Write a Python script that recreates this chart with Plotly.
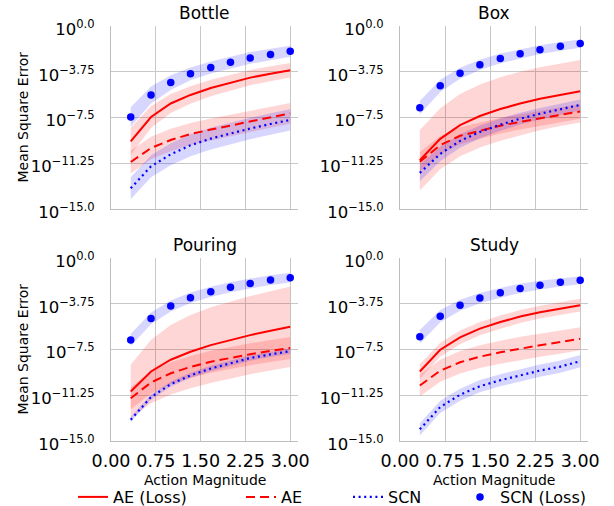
import plotly.graph_objects as go
import numpy as np

# x positions (action magnitude)
action_magnitude = [0.33, 0.67, 1.0, 1.33, 1.67, 2.0, 2.33, 2.67, 3.0]

panel_titles = ["Bottle", "Box", "Pouring", "Study"]
series_names = ["AE (Loss)", "AE", "SCN", "SCN (Loss)"]

# mean log10(MSE) per series
bottle_ae_loss = [-9.45, -7.46, -6.35, -5.65, -5.08, -4.64, -4.23, -3.91, -3.63]
bottle_ae = [-11.15, -10.0, -9.34, -8.86, -8.49, -8.15, -7.81, -7.48, -7.16]
bottle_scn = [-13.3, -11.5, -10.52, -9.78, -9.23, -8.79, -8.4, -8.03, -7.7]
bottle_scn_loss = [-7.45, -5.65, -4.64, -3.92, -3.4, -2.98, -2.62, -2.33, -2.07]

box_ae_loss = [-11.0, -9.25, -8.13, -7.38, -6.81, -6.35, -5.97, -5.63, -5.34]
box_ae = [-11.13, -9.77, -9.0, -8.57, -8.17, -7.86, -7.57, -7.28, -7.0]
box_scn = [-12.04, -10.48, -9.42, -8.68, -8.09, -7.6, -7.19, -6.85, -6.47]
box_scn_loss = [-6.7, -4.9, -3.88, -3.18, -2.66, -2.27, -1.94, -1.67, -1.44]

pouring_ae_loss = [-10.94, -9.3, -8.34, -7.68, -7.14, -6.7, -6.32, -5.97, -5.64]
pouring_ae = [-11.49, -10.2, -9.45, -8.93, -8.5, -8.17, -7.89, -7.62, -7.38]
pouring_scn = [-13.25, -11.4, -10.34, -9.62, -9.06, -8.6, -8.2, -7.9, -7.63]
pouring_scn_loss = [-6.72, -4.95, -3.93, -3.26, -2.77, -2.39, -2.09, -1.81, -1.61]

study_ae_loss = [-9.3, -7.52, -6.5, -5.79, -5.25, -4.8, -4.44, -4.13, -3.87]
study_ae = [-10.45, -9.24, -8.55, -8.09, -7.73, -7.41, -7.15, -6.89, -6.62]
study_scn = [-14.04, -12.21, -11.21, -10.51, -10.02, -9.6, -9.23, -8.9, -8.46]
study_scn_loss = [-6.46, -4.77, -3.87, -3.28, -2.85, -2.49, -2.23, -1.99, -1.82]

# band half-widths (decades)
bottle_ae_loss_sd = [1.1, 0.9, 0.78, 0.72, 0.67, 0.65, 0.63, 0.61, 0.6]
bottle_ae_sd = [0.95, 0.93, 0.92, 0.9, 0.9, 0.88, 0.87, 0.86, 0.85]
bottle_scn_sd = [0.9, 0.9, 0.9, 0.9, 0.9, 0.89, 0.88, 0.88, 0.87]
bottle_scn_loss_sd = [0.8, 0.7, 0.6, 0.52, 0.5, 0.49, 0.48, 0.47, 0.46]

box_ae_loss_sd = [2.48, 2.5, 2.55, 2.58, 2.6, 2.6, 2.58, 2.57, 2.56]
box_ae_sd = [0.8, 0.75, 0.7, 0.68, 0.65, 0.63, 0.62, 0.61, 0.6]
box_scn_sd = [0.68, 0.6, 0.55, 0.52, 0.5, 0.48, 0.47, 0.46, 0.45]
box_scn_loss_sd = [0.55, 0.5, 0.45, 0.42, 0.4, 0.38, 0.36, 0.35, 0.34]

pouring_ae_loss_sd = [2.2, 2.6, 2.85, 3.0, 3.1, 3.15, 3.2, 3.25, 3.3]
pouring_ae_sd = [0.9, 0.9, 0.9, 0.9, 0.9, 0.9, 0.9, 0.9, 0.9]
pouring_scn_sd = [0.22, 0.22, 0.22, 0.22, 0.22, 0.22, 0.22, 0.22, 0.22]
pouring_scn_loss_sd = [0.5, 0.48, 0.45, 0.43, 0.42, 0.41, 0.4, 0.4, 0.4]

study_ae_loss_sd = [0.6, 0.58, 0.56, 0.55, 0.54, 0.53, 0.52, 0.52, 0.52]
study_ae_sd = [0.9, 0.9, 0.92, 0.93, 0.94, 0.95, 0.95, 0.95, 0.95]
study_scn_sd = [0.5, 0.5, 0.5, 0.5, 0.5, 0.5, 0.5, 0.5, 0.5]
study_scn_loss_sd = [0.55, 0.5, 0.45, 0.42, 0.4, 0.38, 0.36, 0.34, 0.33]

panels = [
    [(bottle_ae_loss, bottle_ae_loss_sd), (bottle_ae, bottle_ae_sd),
     (bottle_scn, bottle_scn_sd), (bottle_scn_loss, bottle_scn_loss_sd)],
    [(box_ae_loss, box_ae_loss_sd), (box_ae, box_ae_sd),
     (box_scn, box_scn_sd), (box_scn_loss, box_scn_loss_sd)],
    [(pouring_ae_loss, pouring_ae_loss_sd), (pouring_ae, pouring_ae_sd),
     (pouring_scn, pouring_scn_sd), (pouring_scn_loss, pouring_scn_loss_sd)],
    [(study_ae_loss, study_ae_loss_sd), (study_ae, study_ae_sd),
     (study_scn, study_scn_sd), (study_scn_loss, study_scn_loss_sd)],
]

y_tick_exps = [-15.0, -11.25, -7.5, -3.75, 0.0]
y_tick_text = ["10<sup>\u221215.0</sup>", "10<sup>\u221211.25</sup>",
               "10<sup>\u22127.5</sup>", "10<sup>\u22123.75</sup>", "10<sup>0.0</sup>"]
x_tick_vals = [0.0, 0.75, 1.5, 2.25, 3.0]

RED = "#ff0000"
BLUE = "#0000ff"
band_colors = ["rgba(255,0,0,0.16)", "rgba(255,0,0,0.16)",
               "rgba(0,0,255,0.16)", "rgba(0,0,255,0.16)"]
line_styles = [
    dict(mode="lines", line=dict(color=RED, width=2)),
    dict(mode="lines", line=dict(color=RED, width=2, dash="9px,5px")),
    dict(mode="lines", line=dict(color=BLUE, width=2.2, dash="2px,3.6px")),
    dict(mode="markers", marker=dict(color=BLUE, size=7.5)),
]
legend_widths = [123, 62, 67, 95]

W, H = 614, 506
FONT = "DejaVu Sans"


def px(x):
    return x / W


def py(y):
    return 1 - y / H


# plot-area boxes in window pixels: (left, right, top, bottom)
boxes = [(111, 298, 26, 209), (400, 588, 26, 209),
         (111, 298, 258, 441), (400, 588, 258, 441)]

fig = go.Figure()

for p, series in enumerate(panels):
    xa = "x" if p == 0 else f"x{p+1}"
    ya = "y" if p == 0 else f"y{p+1}"
    for s, (mean, sd) in enumerate(series):
        m = np.array(mean)
        d = np.array(sd)
        fig.add_trace(go.Scatter(x=action_magnitude, y=10 ** (m + d), mode="lines",
                                 line=dict(width=0, color=band_colors[s]),
                                 showlegend=False, hoverinfo="skip", xaxis=xa, yaxis=ya))
        fig.add_trace(go.Scatter(x=action_magnitude, y=10 ** (m - d), mode="lines",
                                 line=dict(width=0, color=band_colors[s]),
                                 fill="tonexty", fillcolor=band_colors[s],
                                 showlegend=False, hoverinfo="skip", xaxis=xa, yaxis=ya))
    for s, (mean, sd) in enumerate(series):
        m = np.array(mean)
        fig.add_trace(go.Scatter(x=action_magnitude, y=10 ** m, name=series_names[s],
                                 legendgroup=series_names[s], showlegend=(p == 0),
                                 legendwidth=legend_widths[s],
                                 xaxis=xa, yaxis=ya, **line_styles[s]))

layout = dict(
    template="none",
    width=W, height=H, margin=dict(l=0, r=0, t=0, b=0, pad=0, autoexpand=False),
    paper_bgcolor="white", plot_bgcolor="white",
    font=dict(family=FONT, color="black", size=16),
    showlegend=True,
    legend=dict(orientation="h", x=px(73), xanchor="left", y=py(497), yanchor="middle",
                font=dict(size=16, family=FONT), bgcolor="rgba(0,0,0,0)",
                itemwidth=30, tracegroupgap=0, borderwidth=0),
)

annotations = []
for p, (l, r, t, b) in enumerate(boxes):
    sfx = "" if p == 0 else str(p + 1)
    bottom_row = p >= 2
    layout["xaxis" + sfx] = dict(
        domain=[px(l), px(r)], anchor="y" + sfx, range=[0, 3.13], automargin=False,
        tickvals=x_tick_vals, tickformat=".2f", showticklabels=bottom_row,
        tickfont=dict(size=17.5, family=FONT), ticks="", ticklabelstandoff=4,
        showgrid=True, gridcolor="#c8c8c8", gridwidth=1.3,
        showline=True, linecolor="#bdbdbd", linewidth=1.3, zeroline=False,
    )
    layout["yaxis" + sfx] = dict(
        domain=[py(b), py(t)], anchor="x" + sfx, type="log", range=[-15, 0],
        automargin=False,
        tickvals=[10 ** e for e in y_tick_exps], ticktext=y_tick_text,
        tickfont=dict(size=16.5, family=FONT), ticks="", ticklabelstandoff=12,
        ticklabelshift=3,
        showgrid=True, gridcolor="#c8c8c8", gridwidth=1.3,
        showline=True, linecolor="#bdbdbd", linewidth=1.3, zeroline=False,
    )
    annotations.append(dict(text=panel_titles[p], x=px((l + r) / 2), y=py(t - 13),
                            xref="paper", yref="paper", showarrow=False,
                            xanchor="center", yanchor="middle",
                            font=dict(size=17, family=FONT)))
    if p % 2 == 0:
        annotations.append(dict(text="Mean Square Error", x=px(22), y=py((t + b) / 2),
                                xref="paper", yref="paper", showarrow=False, textangle=-90,
                                xanchor="center", yanchor="middle",
                                font=dict(size=14, family=FONT)))
    if bottom_row:
        annotations.append(dict(text="Action Magnitude", x=px((l + r) / 2), y=py(480),
                                xref="paper", yref="paper", showarrow=False,
                                xanchor="center", yanchor="middle",
                                font=dict(size=14, family=FONT)))

layout["annotations"] = annotations
fig.update_layout(**layout)

# remove the browser's default 8px body margin so the figure fills the window exactly
fig.write_html("out.html", config={"displayModeBar": False},
               post_script="document.body.style.margin='0';document.body.style.overflow='hidden';")
